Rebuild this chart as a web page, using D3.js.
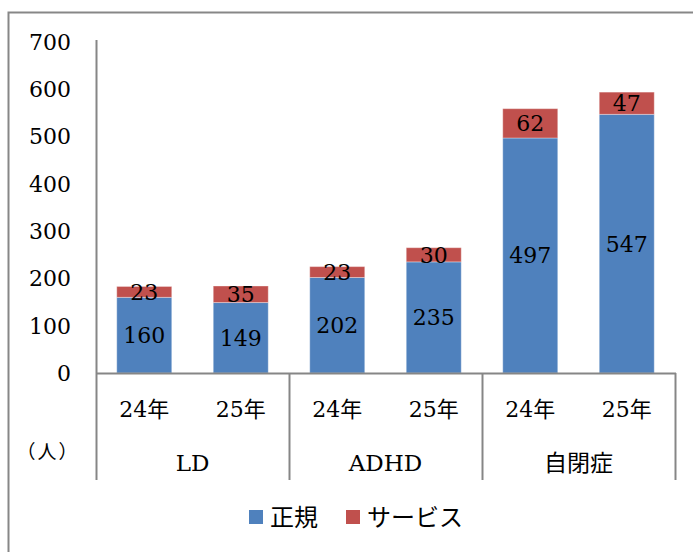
<!DOCTYPE html>
<html>
<head>
<meta charset="utf-8">
<script src="https://cdn.jsdelivr.net/npm/d3@7"></script>
<style>
  body { margin: 0; background: #fff; }
  text { font-family: "DejaVu Serif", "Noto Sans CJK JP", serif; fill: #000; }
  text.jp { font-family: "Noto Sans CJK JP", sans-serif; }
</style>
</head>
<body>
<script>
var groups = ["LD", "ADHD", "自閉症"];
var years = ["24年", "25年"];
var seikiVals = [160, 149, 202, 235, 497, 547];
var serviceVals = [23, 35, 23, 30, 62, 47];
var seriesNames = ["正規", "サービス"];
var colors = ["#4F81BD", "#C0504D"];
var yTicks = [0, 100, 200, 300, 400, 500, 600, 700];

var width = 693, height = 552;

var svg = d3.select("body").append("svg")
    .attr("width", width)
    .attr("height", height);

// outer frame (only left and top visible in the picture)
svg.append("rect")
    .attr("x", 8.5).attr("y", 12.5)
    .attr("width", 800).attr("height", 700)
    .attr("fill", "none")
    .attr("stroke", "#878787")
    .attr("stroke-width", 2);

var x0 = 96, x1 = 675, yTop = 42, yBot = 373;

// one slot per bar
var slots = [];
groups.forEach(function(g, gi){
    years.forEach(function(yr, yi){
        slots.push({group: g, year: yr, i: gi * years.length + yi});
    });
});

var x = d3.scaleBand()
    .domain(slots.map(function(d){ return d.i; }))
    .range([x0, x1])
    .paddingInner(0.43)
    .paddingOuter(0.215);

var y = d3.scaleLinear()
    .domain([0, 700])
    .range([yBot, yTop]);

// y axis
svg.append("line")
    .attr("x1", x0 + 0.5).attr("x2", x0 + 0.5)
    .attr("y1", yTop - 2).attr("y2", yBot)
    .attr("stroke", "#868686").attr("stroke-width", 2);

svg.selectAll(".ylab")
    .data(yTicks)
    .enter().append("text")
    .attr("class", "ylab")
    .attr("x", 71)
    .attr("y", function(d){ return y(d); })
    .attr("dy", "0.36em")
    .attr("text-anchor", "end")
    .style("font-size", "22px")
    .text(function(d){ return d; });

// stacked bars
var stackData = slots.map(function(s){
    return {i: s.i, seiki: seikiVals[s.i], service: serviceVals[s.i]};
});
var stack = d3.stack().keys(["seiki", "service"]);
var layers = stack(stackData);

var layer = svg.selectAll(".layer")
    .data(layers)
    .enter().append("g")
    .attr("class", "layer")
    .attr("fill", function(d, k){ return colors[k]; });

layer.selectAll("rect")
    .data(function(d){ return d; })
    .enter().append("rect")
    .attr("x", function(d){ return x(d.data.i); })
    .attr("width", x.bandwidth())
    .attr("y", function(d){ return y(d[1]); })
    .attr("height", function(d){ return y(d[0]) - y(d[1]); })
    .attr("stroke", "#ffffff")
    .attr("stroke-opacity", 0.35)
    .attr("stroke-width", 1);

// value labels
layers.forEach(function(L){
    svg.selectAll(".vl-" + L.key)
        .data(L)
        .enter().append("text")
        .attr("x", function(d){ return x(d.data.i) + x.bandwidth() / 2; })
        .attr("y", function(d){ return (y(d[0]) + y(d[1])) / 2; })
        .attr("dy", "0.36em")
        .attr("text-anchor", "middle")
        .style("font-size", "22px")
        .text(function(d){ return d[1] - d[0]; });
});

// x axis line
svg.append("line")
    .attr("x1", x0).attr("x2", x1 + 1)
    .attr("y1", yBot + 0.5).attr("y2", yBot + 0.5)
    .attr("stroke", "#868686").attr("stroke-width", 2);

// group separators
var groupW = (x1 - x0) / groups.length;
d3.range(groups.length + 1).forEach(function(k){
    svg.append("line")
        .attr("x1", x0 + k * groupW + 0.5).attr("x2", x0 + k * groupW + 0.5)
        .attr("y1", yBot).attr("y2", 480)
        .attr("stroke", "#868686").attr("stroke-width", 2);
});

// year labels
svg.selectAll(".yr")
    .data(slots)
    .enter().append("text")
    .attr("class", "yr")
    .attr("x", function(d){ return x(d.i) + x.bandwidth() / 2; })
    .attr("y", 409)
    .attr("dy", "0.36em")
    .attr("text-anchor", "middle")
    .style("font-size", "22px")
    .text(function(d){ return d.year; });

// group labels
svg.selectAll(".grp")
    .data(groups)
    .enter().append("text")
    .attr("class", function(d){ return /[A-Z]/.test(d) ? "grp" : "grp jp"; })
    .attr("x", function(d, k){ return x0 + (k + 0.5) * groupW; })
    .attr("y", 463)
    .attr("dy", "0.36em")
    .attr("text-anchor", "middle")
    .style("font-size", "23px")
    .text(function(d){ return d; });

svg.append("text")
    .attr("class", "jp")
    .attr("x", 48).attr("y", 452)
    .attr("dy", "0.36em")
    .attr("text-anchor", "middle")
    .style("font-size", "19px")
    .style("letter-spacing", "2px")
    .text("（人）");

// legend
var legX = [249, 346];
var leg = svg.selectAll(".leg")
    .data(seriesNames)
    .enter().append("g")
    .attr("class", "leg")
    .attr("transform", function(d, k){ return "translate(" + legX[k] + ",517)"; });

leg.append("rect")
    .attr("x", 0).attr("y", -7)
    .attr("width", 14).attr("height", 14)
    .attr("fill", function(d, k){ return colors[k]; });

leg.append("text")
    .attr("class", "jp")
    .attr("x", 21).attr("y", 0)
    .attr("dy", "0.36em")
    .style("font-size", "24px")
    .text(function(d){ return d; });
</script>
</body>
</html>
